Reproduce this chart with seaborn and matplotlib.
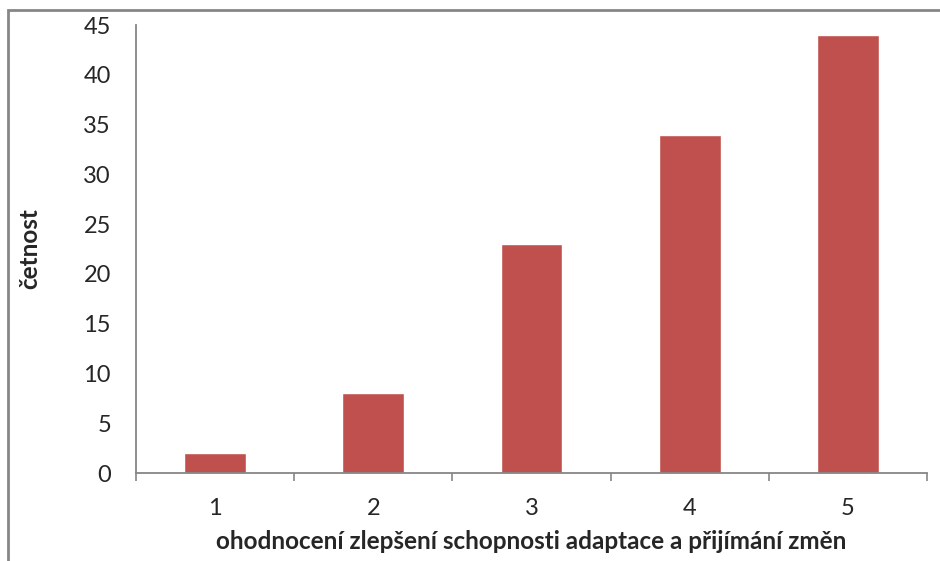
import matplotlib
matplotlib.use("Agg")
import matplotlib.pyplot as plt
import seaborn as sns
import pandas as pd
from matplotlib.patches import Rectangle
from matplotlib.ticker import FixedLocator

# data
categories = ["1", "2", "3", "4", "5"]
counts = [2, 8, 23, 34, 44]
y_ticks = [0, 5, 10, 15, 20, 25, 30, 35, 40, 45]

df = pd.DataFrame({"hodnoceni": categories, "cetnost": counts})

sns.set_style("white")
plt.rcParams["font.family"] = ["Lato", "DejaVu Sans"]

fig = plt.figure(figsize=(9.4, 5.61), dpi=100)
ax = fig.add_axes([136 / 940, 88 / 561, (927 - 136) / 940, (473 - 25) / 561])

sns.barplot(data=df, x="hodnoceni", y="cetnost", color="#C0504D", width=0.39,
            saturation=1, ax=ax)

grey = "#868686"
ax.set_ylim(0, 45)
ax.set_xlim(-0.5, 4.5)
ax.set_yticks(y_ticks)
ax.tick_params(axis="y", length=6, width=1.2, color=grey, pad=12, labelsize=17)
ax.tick_params(axis="x", which="major", length=0, pad=18, labelsize=17)
ax.xaxis.set_minor_locator(FixedLocator([-0.5, 0.5, 1.5, 2.5, 3.5, 4.5]))
ax.tick_params(axis="x", which="minor", length=6, width=1.2, color=grey,
               direction="out", bottom=True)

for s in ["top", "right"]:
    ax.spines[s].set_visible(False)
for s in ["left", "bottom"]:
    ax.spines[s].set_color(grey)
    ax.spines[s].set_linewidth(1.3)

ax.set_ylabel("četnost", fontsize=17.5, fontweight="bold", labelpad=30)
ax.set_xlabel("ohodnocení zlepšení schopnosti adaptace a přijímání změn",
              fontsize=17.5, fontweight="bold", labelpad=8)

# outer chart frame, as in the spreadsheet export
fig.patches.append(Rectangle((8 / 940, -0.05), 1.2, (561 - 10) / 561 + 0.05,
                             transform=fig.transFigure, fill=False,
                             edgecolor=grey, linewidth=2))

fig.savefig("out.png", dpi=100)
